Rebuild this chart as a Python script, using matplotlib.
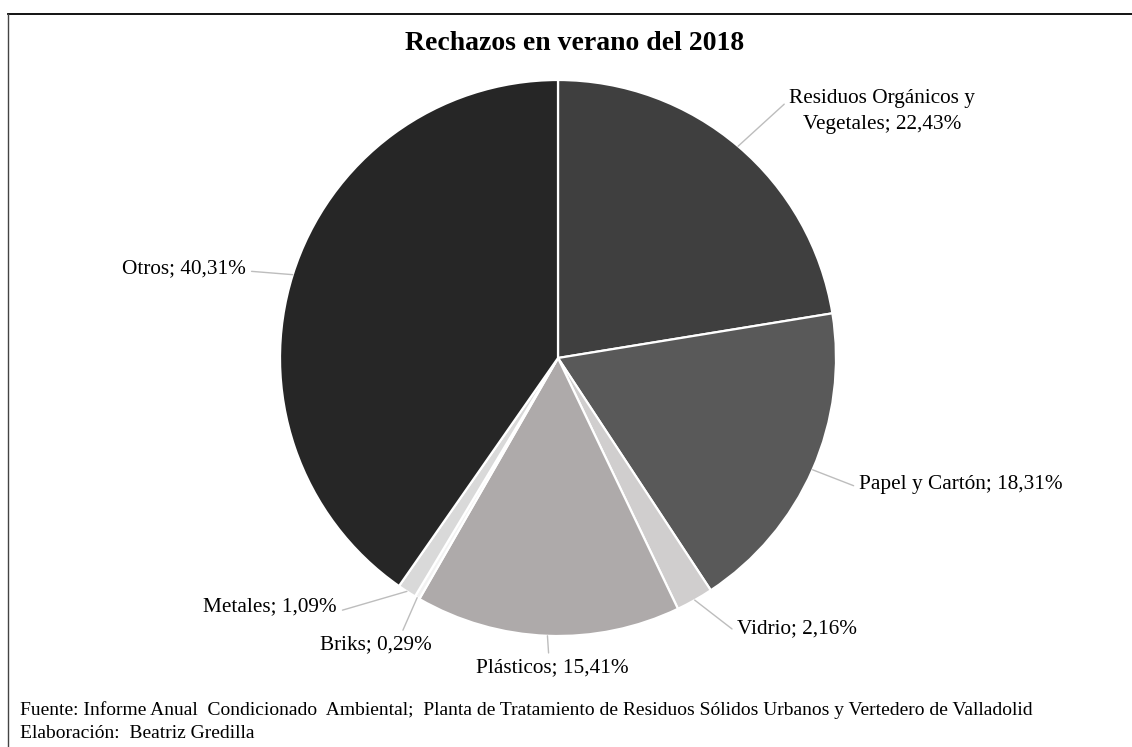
import numpy as np
import matplotlib
matplotlib.use("Agg")
import matplotlib.pyplot as plt
from matplotlib.lines import Line2D

# data
categories = ["Residuos Orgánicos y\nVegetales", "Papel y Cartón", "Vidrio",
              "Plásticos", "Briks", "Metales", "Otros"]
values = [22.43, 18.31, 2.16, 15.41, 0.29, 1.09, 40.31]
colors = ["#3f3f3f", "#595959", "#d0cece", "#aeaaaa", "#f2f2f2", "#d9d9d9", "#262626"]

# label text positions in pixels of the reference (x, y), alignment and leader attach point
label_pos = [(882, 111), (859, 484), (737, 629), (552, 668), (376, 645), (337, 607), (246, 269)]
label_ha = ["center", "left", "left", "center", "center", "right", "right"]
label_rel = [(0.0, 0.75), (0.0, 0.3), (0.0, 0.3), (0.48, 1.0), (0.72, 1.0), (1.0, 0.25), (1.0, 0.4)]

plt.rcParams["font.family"] = ["Liberation Serif", "DejaVu Serif"]

W, H = 1132, 747
fig = plt.figure(figsize=(W / 100, H / 100), dpi=100)

cx, cy, r = 558, 358, 278
ax = fig.add_axes([(cx - r) / W, (H - cy - r) / H, 2 * r / W, 2 * r / H])
wedges, _ = ax.pie(values, colors=colors, startangle=90, counterclock=False,
                   radius=1, wedgeprops=dict(edgecolor="white", linewidth=1.6))
ax.set_xlim(-1, 1)
ax.set_ylim(-1, 1)
ax.set_aspect("equal")
ax.axis("off")


def to_data(px, py):
    return (px - cx) / r, (cy - py) / r


for w, cat, v, (px, py), ha, rel in zip(wedges, categories, values, label_pos, label_ha, label_rel):
    ang = np.deg2rad((w.theta1 + w.theta2) / 2)
    xy = (np.cos(ang), np.sin(ang))
    txt = f"{cat}; {v:.2f}%".replace(".", ",")
    ax.annotate(txt, xy=xy, xytext=to_data(px, py), ha=ha, va="center",
                fontsize=15.3, color="black", annotation_clip=False,
                multialignment="center", linespacing=1.5,
                arrowprops=dict(arrowstyle="-", color="#bdbdbd", lw=1.0,
                                relpos=rel, shrinkA=2, shrinkB=0))

fig.text(575 / W, 1 - 43 / H, "Rechazos en verano del 2018", ha="center", va="center",
         fontsize=20, fontweight="bold")

fig.text(20 / W, 1 - 710 / H,
         "Fuente: Informe Anual  Condicionado  Ambiental;  Planta de Tratamiento de Residuos Sólidos Urbanos y Vertedero de Valladolid",
         ha="left", va="center", fontsize=14)
fig.text(20 / W, 1 - 733 / H, "Elaboración:  Beatriz Gredilla", ha="left", va="center", fontsize=14)

# frame (cropped: only top and left visible)
fig.add_artist(Line2D([8 / W, 1], [1 - 14 / H, 1 - 14 / H], color="black", lw=1.3,
                      transform=fig.transFigure))
fig.add_artist(Line2D([8 / W, 8 / W], [0, 1 - 14 / H], color="#444444", lw=1.0,
                      transform=fig.transFigure))

fig.savefig("out.png", dpi=100, facecolor="white")
